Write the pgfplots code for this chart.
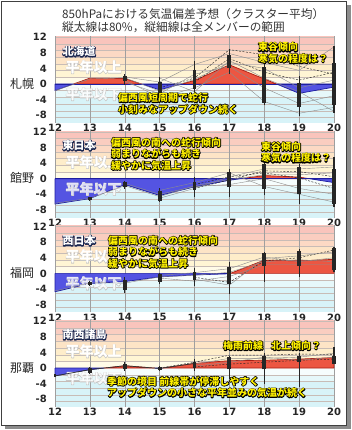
\documentclass[border=0pt]{standalone}
\usepackage{fontspec}
\setmainfont{Noto Sans CJK JP}
\newfontfamily\tickf{DejaVu Sans}
\usepackage{pgfplots}
\pgfplotsset{compat=1.18}

\definecolor{areared}{RGB}{236,86,66}
\definecolor{areablue}{RGB}{84,84,226}
\definecolor{linered}{RGB}{170,30,20}
\definecolor{lineblue}{RGB}{30,30,160}
\definecolor{bA}{HTML}{F9C4BC}
\definecolor{bB}{HTML}{FACDC0}
\definecolor{bC}{HTML}{FCD9C4}
\definecolor{bD}{HTML}{FDE4C6}
\definecolor{bE}{HTML}{FEEDCA}
\definecolor{bF}{HTML}{FFF5D4}
\definecolor{bG}{HTML}{FFFBE8}
\definecolor{bH}{HTML}{F6FDFD}
\definecolor{bI}{HTML}{E6F8FA}
\definecolor{bJ}{HTML}{D8F3F8}
\definecolor{hgrid}{RGB}{200,188,182}
\definecolor{navy}{RGB}{28,40,80}

\pgfplotsset{
  panel/.style={
    at={(55pt,#1)}, anchor=south west, scale only axis,
    width=279pt, height=87pt,
    xmin=12, xmax=20, ymin=-10, ymax=12.3, clip=false,
    xtick={12,13,14,15,16,17,18,19,20}, ytick={-8,-4,0,4,8,12},
    axis line style={draw=none}, major tick length=0pt, minor tick length=0pt,
    tick label style={font=\tickf\bfseries\fontsize{10}{12}\selectfont, text=black!85},
    xticklabel style={anchor=north, inner sep=0pt, yshift=-1pt},
    yticklabel style={anchor=east, inner sep=0pt, xshift=-8pt},
    /pgf/number format/assume math mode=true,
  },
  band/.style={fill=#1, draw=none, forget plot},
  mem/.style={black!45, line width=0.4pt, mark=none, forget plot},
  memd/.style={black!85, dash pattern=on 2pt off 1.5pt, line width=0.45pt, mark=none, forget plot},
  whisk/.style={black!85, line width=1.1pt, mark=none, unbounded coords=jump, forget plot},
  bareighty/.style={black!85, line width=3.8pt, mark=none, unbounded coords=jump, forget plot},
  posarea/.style={fill=areared, draw=linered, line width=0.7pt, line join=round, mark=none, unbounded coords=jump, forget plot},
  negarea/.style={fill=areablue, draw=lineblue, line width=0.7pt, line join=round, mark=none, unbounded coords=jump, forget plot},
}

\newcommand{\strokeon}[1]{\special{pdf:literal direct 1 Tr #1 w 1 j}}
\newcommand{\strokeoff}{\special{pdf:literal direct 0 Tr}}

\newcommand{\panelbg}{%
  \addplot[band=bA] coordinates {(12,10.286)(20,10.286)(20,12.3)(12,12.3)};
  \addplot[band=bB] coordinates {(12,8.571)(20,8.571)(20,10.286)(12,10.286)};
  \addplot[band=bC] coordinates {(12,6.857)(20,6.857)(20,8.571)(12,8.571)};
  \addplot[band=bD] coordinates {(12,5.143)(20,5.143)(20,6.857)(12,6.857)};
  \addplot[band=bE] coordinates {(12,3.429)(20,3.429)(20,5.143)(12,5.143)};
  \addplot[band=bF] coordinates {(12,1.714)(20,1.714)(20,3.429)(12,3.429)};
  \addplot[band=bG] coordinates {(12,0)(20,0)(20,1.714)(12,1.714)};
  \addplot[band=bH] coordinates {(12,-1.714)(20,-1.714)(20,0)(12,0)};
  \addplot[band=bI] coordinates {(12,-3.429)(20,-3.429)(20,-1.714)(12,-1.714)};
  \addplot[band=bJ] coordinates {(12,-10)(20,-10)(20,-3.429)(12,-3.429)};
  \addplot[hgrid, line width=0.4pt, unbounded coords=jump, forget plot] coordinates {(12,-8.571)(20,-8.571)(20,nan)(12,-6.857)(20,-6.857)(20,nan)(12,-5.143)(20,-5.143)(20,nan)(12,-3.429)(20,-3.429)(20,nan)(12,-1.714)(20,-1.714)(20,nan)(12,1.714)(20,1.714)(20,nan)(12,3.429)(20,3.429)(20,nan)(12,5.143)(20,5.143)(20,nan)(12,6.857)(20,6.857)(20,nan)(12,8.571)(20,8.571)(20,nan)(12,10.286)(20,10.286)(20,nan)(12,12)(20,12)};
  \addplot[gray!75, line width=0.5pt, unbounded coords=jump, forget plot] coordinates {(12,-10)(12,12.3)(12,nan)(13,-10)(13,12.3)(13,nan)(14,-10)(14,12.3)(14,nan)(15,-10)(15,12.3)(15,nan)(16,-10)(16,12.3)(16,nan)(17,-10)(17,12.3)(17,nan)(18,-10)(18,12.3)(18,nan)(19,-10)(19,12.3)(19,nan)(20,-10)(20,12.3)};
}
\newcommand{\watermarks}{%
  \node[anchor=west, inner sep=0pt, font=\fontsize{14}{14}\selectfont\bfseries, text=black!22] at (axis cs:12.3,4.3) {\strokeon{0.7}平年以上\strokeoff};
  \node[anchor=west, inner sep=0pt, font=\fontsize{14}{14}\selectfont\bfseries, text=white] at (axis cs:12.3,4.3) {平年以上};
  \node[anchor=west, inner sep=0pt, font=\fontsize{14}{14}\selectfont\bfseries, text=black!22] at (axis cs:12.3,-2.6) {\strokeon{0.7}平年以下\strokeoff};
  \node[anchor=west, inner sep=0pt, font=\fontsize{14}{14}\selectfont\bfseries, text=white, opacity=0.8] at (axis cs:12.3,-2.6) {平年以下};
}

\newcommand{\otext}[5]{%
  \node[#2, text=#3] at (#1) {\strokeon{1.5}#5\strokeoff};
  \node[#2, text=#4] at (#1) {#5};}

\tikzset{
  ann/.style={anchor=west, inner sep=0pt, align=left, font=\fontsize{10}{11.5}\selectfont\bfseries},
  reg/.style={anchor=west, inner sep=0pt, font=\fontsize{11}{12}\selectfont\bfseries},
}

\begin{document}
\begin{tikzpicture}[x=1pt, y=1pt]
\path (0,0) rectangle (351,430);
\fill[black!45] (346,0.5) rectangle (350.5,425);
\fill[black!45] (5,0.5) rectangle (350.5,5);
\draw[black!75, line width=0.8pt] (1,5) rectangle (346,429);

% ---------------- Panel 1 : Sapporo  (mean: 12:-1.7 13:1.5 14:1.4 15:-1.5 16:0.9 17:4.9 18:1.3 19:-2.4 20:-0.8)
\begin{axis}[panel=307pt]
\panelbg
\addplot[posarea] coordinates {(12.531,0)(13,1.5)(14,1.4)(14.483,0)(12.531,0)(14.483,nan)(15.625,0)(16,0.9)(17,4.9)(18,1.3)(18.351,0)(15.625,0)};
\addplot[negarea] coordinates {(12,0)(12,-1.7)(12.531,0)(12,0)(12.531,nan)(14.483,0)(15,-1.5)(15.625,0)(14.483,0)(15.625,nan)(18.351,0)(19,-2.4)(20,-0.8)(20,0)(18.351,0)};
\watermarks
\addplot[lineblue, line width=0.8pt, forget plot] coordinates {(12,0)(20,0)};
\addplot[memd] coordinates {(15,-1)(16,1.5)(17,8.8)(18,7.5)(19,4.5)(20,2.5)};
\addplot[memd] coordinates {(16,0.5)(17,6.5)(18,3)(19,1)(20,3)};
\addplot[mem] coordinates {(14,1.8)(15,0.5)(16,5)(17,7.8)(18,5.5)(19,3.5)(20,9.5)};
\addplot[mem] coordinates {(14,1)(15,-3.5)(16,-1)(17,3)(18,-4.5)(19,-7.5)(20,-6)};
\addplot[mem] coordinates {(14,0.5)(15,-2.5)(16,2.5)(17,4.5)(18,-1)(19,-5)(20,-3)};
\addplot[mem] coordinates {(15,1.5)(16,-2)(17,6)(18,1.5)(19,-2)(20,-7)};
\addplot[mem] coordinates {(12,-1.7)(13,1.3)(14,1.6)(15,-1.8)(16,1.2)(17,5.5)(18,4)(19,-1)(20,1)};
\addplot[whisk] coordinates {(14,-0.3)(14,2.6)(14,nan)(15,-4.2)(15,1.9)(15,nan)(16,-3)(16,6)(16,nan)(17,2.5)(17,9)(17,nan)(18,-5.5)(18,5.7)(18,nan)(19,-8.2)(19,2)(19,nan)(20,-7.4)(20,9.7)};
\addplot[bareighty] coordinates {(14,0.8)(14,2.0)(14,nan)(15,-3.5)(15,0.5)(15,nan)(16,-1.2)(16,3.5)(16,nan)(17,4)(17,7.5)(17,nan)(18,-4.8)(18,4.4)(18,nan)(19,-5.8)(19,0.2)(19,nan)(20,-5.4)(20,5.3)};
\end{axis}

% ---------------- Panel 2 : Tateno  (mean: 12:-6.5 13:-5.1 14:-1.5 15:-4.3 16:-2.1 17:-0.4 18:0.8 19:0.4 20:-1.0)
\begin{axis}[panel=212.3pt]
\panelbg
\addplot[posarea] coordinates {(17.333,0)(18,0.8)(19,0.4)(19.286,0)(17.333,0)};
\addplot[negarea] coordinates {(12,0)(12,-6.5)(13,-5.1)(14,-1.5)(15,-4.3)(16,-2.1)(17,-0.4)(17.333,0)(12,0)(17.333,nan)(19.286,0)(20,-1.0)(20,0)(19.286,0)};
\watermarks
\addplot[lineblue, line width=0.8pt, forget plot] coordinates {(12,0)(17.333,0)(17.333,nan)(19.286,0)(20,0)};
\addplot[memd] coordinates {(16,-2.5)(17,-0.3)(18,2)(19,1.8)(20,0.5)};
\addplot[memd] coordinates {(16,-1.5)(17,0.5)(18,1.5)(19,0.2)(20,-2.5)};
\addplot[mem] coordinates {(15,-3)(16,-1)(17,1.5)(18,-2)(19,-4)(20,-6)};
\addplot[mem] coordinates {(15,-5)(16,-2.5)(17,0.5)(18,2.5)(19,2.5)(20,3)};
\addplot[mem] coordinates {(14,-1.2)(15,-4)(16,-2)(17,-1.5)(18,0)(19,-2.5)(20,-4)};
\addplot[mem] coordinates {(12,-6.3)(13,-5)(14,-1.8)(15,-4.6)(16,-1.8)(17,-0.2)(18,1)(19,1)(20,1.5)};
\addplot[whisk] coordinates {(13,-5.6)(13,-4.6)(13,nan)(14,-2.6)(14,-0.6)(14,nan)(15,-6)(15,-2.5)(15,nan)(16,-4.7)(16,0.4)(16,nan)(17,-4.7)(17,2.6)(17,nan)(18,-4.3)(18,5.5)(18,nan)(19,-6.4)(19,3.8)(19,nan)(20,-7.3)(20,5.5)};
\addplot[bareighty] coordinates {(13,-5.5)(13,-4.8)(13,nan)(14,-2.2)(14,-0.9)(14,nan)(15,-5.6)(15,-3.2)(15,nan)(16,-3)(16,-0.9)(16,nan)(17,-2.1)(17,1.7)(17,nan)(18,-2.6)(18,3.8)(18,nan)(19,-3.8)(19,3)(19,nan)(20,-6.4)(20,2.6)};
\end{axis}

% ---------------- Panel 3 : Fukuoka  (mean: 12:-4.7 13:-2.6 14:-2.1 15:-0.9 16:-0.4 17:-0.1 18:3.4 19:3.2 20:3.6)
\begin{axis}[panel=117.6pt]
\panelbg
\addplot[posarea] coordinates {(17.029,0)(18,3.4)(19,3.2)(20,3.6)(20,0)(17.029,0)};
\addplot[negarea] coordinates {(12,0)(12,-4.7)(13,-2.6)(14,-2.1)(15,-0.9)(16,-0.4)(17,-0.1)(17.029,0)(12,0)};
\watermarks
\addplot[memd] coordinates {(16,-1)(17,-2.3)(18,3.2)(19,4)(20,6)};
\addplot[mem] coordinates {(16,-1.5)(17,-3)(18,3.8)(19,4.5)(20,5.5)};
\addplot[mem] coordinates {(15,-0.5)(16,0.2)(17,1.2)(18,4.2)(19,3)(20,4)};
\addplot[mem] coordinates {(15,-1.2)(16,-2)(17,-0.8)(18,2.2)(19,2.2)(20,2.2)};
\addplot[mem] coordinates {(12,-4.5)(13,-2.4)(14,-2.5)(15,-0.9)(16,-0.5)(17,0.3)(18,3)(19,3.5)(20,3)};
\addplot[whisk] coordinates {(13,-3.2)(13,-2)(13,nan)(14,-5.1)(14,-0.9)(14,nan)(15,-2.6)(15,0)(15,nan)(16,-3.3)(16,1.3)(16,nan)(17,-5.3)(17,3)(17,nan)(18,-2.1)(18,5.5)(18,nan)(19,-0.9)(19,6.2)(19,nan)(20,0.4)(20,6.7)};
\addplot[bareighty] coordinates {(13,-3)(13,-2.3)(13,nan)(14,-4.3)(14,-1.7)(14,nan)(15,-2.1)(15,-0.2)(15,nan)(16,-1.7)(16,0.4)(16,nan)(17,-2.6)(17,1.7)(17,nan)(18,1.9)(18,5.1)(18,nan)(19,1.9)(19,5.8)(19,nan)(20,0.8)(20,6.4)};
\end{axis}

% ---------------- Panel 4 : Naha  (mean: 12:-2 13:-0.4 14:0.6 15:-0.1 16:1.2 17:1.9 18:2.0 19:2.3 20:2.7)
\begin{axis}[panel=22.9pt]
\panelbg
\addplot[posarea] coordinates {(13.4,0)(14,0.6)(14.857,0)(13.4,0)(14.857,nan)(15.077,0)(16,1.2)(17,1.9)(18,2.0)(19,2.3)(20,2.7)(20,0)(15.077,0)};
\addplot[negarea] coordinates {(12,0)(12,-2)(13,-0.4)(13.4,0)(12,0)(13.4,nan)(14.857,0)(15,-0.1)(15.077,0)(14.857,0)};
\watermarks
\addplot[memd] coordinates {(15,0)(16,1.5)(17,3.3)(18,3.3)(19,3.6)(20,3.5)};
\addplot[memd] coordinates {(16,0.3)(17,1)(18,1.5)(19,2)(20,2.3)};
\addplot[mem] coordinates {(16,1)(17,2.5)(18,2.5)(19,2.8)(20,3.8)};
\addplot[mem] coordinates {(16,0.5)(17,1.5)(18,2.8)(19,2)(20,2.8)};
\addplot[black!80, line width=0.7pt, mark=none, forget plot] coordinates {(12,-2)(13,-0.4)(14,0.6)(15,-0.1)(16,1.2)};
\addplot[whisk] coordinates {(12,-2.3)(12,-1.6)(12,nan)(13,-1.5)(13,0.3)(13,nan)(14,-0.7)(14,1.5)(14,nan)(15,-0.7)(15,0.6)(15,nan)(16,-0.7)(16,2.3)(16,nan)(17,-2.8)(17,3.2)(17,nan)(18,-4.1)(18,3.8)(18,nan)(19,-4.9)(19,3.8)(19,nan)(20,1)(20,5.5)};
\addplot[bareighty] coordinates {(13,-1.2)(13,0)(13,nan)(14,-0.3)(14,1.1)(14,nan)(15,-0.5)(15,0.3)(15,nan)(16,-0.1)(16,1.6)(16,nan)(17,-0.3)(17,2.9)(17,nan)(18,-0.3)(18,3.2)(18,nan)(19,1.5)(19,3.2)(19,nan)(20,1)(20,3.2)};
\end{axis}

% ---------------- titles and labels
\node[anchor=west, inner sep=0pt, font=\fontsize{11.7}{13}\selectfont, text=black!80] at (62,416) {850hPaにおける気温偏差予想（クラスター平均）};
\node[anchor=west, inner sep=0pt, font=\fontsize{11.7}{13}\selectfont, text=black!80] at (62,402.5) {縦太線は80\%，縦細線は全メンバーの範囲};

\node[font=\fontsize{12}{13}\selectfont, text=black!85] at (22,346) {札幌};
\node[font=\fontsize{12}{13}\selectfont, text=black!85] at (22,251.7) {館野};
\node[font=\fontsize{12}{13}\selectfont, text=black!85] at (22,156.7) {福岡};
\node[font=\fontsize{12}{13}\selectfont, text=black!85] at (22,62) {那覇};

\otext{62.5,378.3}{reg}{navy}{white}{北海道}
\otext{62.5,284.3}{reg}{navy}{white}{東日本}
\otext{62.5,189.3}{reg}{navy}{white}{西日本}
\otext{62.5,95.3}{reg}{navy}{white}{南西諸島}

\otext{118,326.5}{ann}{black}{yellow}{偏西風短周期で蛇行\\小刻みなアップダウン続く}
\otext{258,377}{ann}{black}{yellow}{東谷傾向\\寒気の程度は？}
\otext{111,276}{ann}{black}{yellow}{偏西風の南への蛇行傾向\\弱まりながらも続き\\緩やかに気温上昇}
\otext{261,277.5}{ann}{black}{yellow}{東谷傾向\\寒気の程度は？}
\otext{108,178}{ann}{black}{yellow}{偏西風の南への蛇行傾向\\弱まりながらも続き\\緩やかに気温上昇}
\otext{223,84.3}{ann}{black}{yellow}{梅雨前線\hspace{0.8em}北上傾向？}
\otext{107,43}{ann}{black}{yellow}{季節の境目 前線帯が停滞しやすく\\アップダウンの小さな平年並みの気温が続く}
\end{tikzpicture}
\end{document}
